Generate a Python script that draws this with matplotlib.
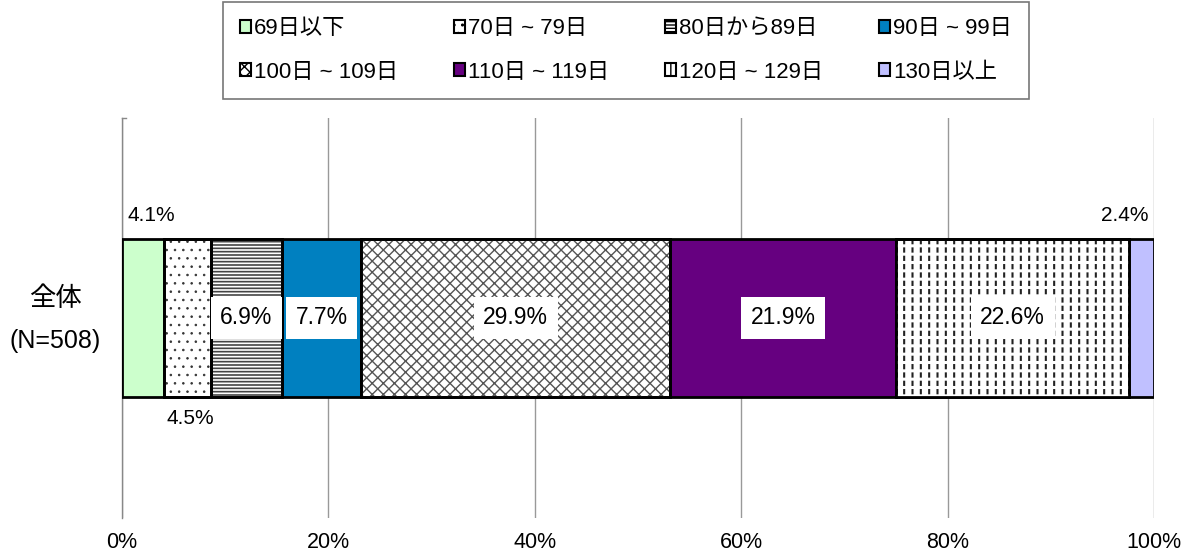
import matplotlib
matplotlib.use("Agg")
import matplotlib.pyplot as plt
from matplotlib.patches import Patch

plt.rcParams['font.family'] = ['Liberation Sans', 'Noto Sans CJK JP', 'DejaVu Sans']

categories = ["69日以下", "70日 ~ 79日", "80日から89日", "90日 ~ 99日",
              "100日 ~ 109日", "110日 ~ 119日", "120日 ~ 129日", "130日以上"]
values = [4.1, 4.5, 6.9, 7.7, 29.9, 21.9, 22.6, 2.4]
group_name = "全体"
group_n = "(N=508)"
x_ticks = [0, 20, 40, 60, 80, 100]
x_ticklabels = ["0%", "20%", "40%", "60%", "80%", "100%"]

colors = ["#ccffcc", "white", "white", "#0080c0", "white", "#660080", "white", "#c0c0ff"]
hatches = [None, "..", "-----", None, "xxx", None, "||", None]
hatch_colors = ["black", "#333333", "#444444", "black", "#555555", "black", "#222222", "black"]
hatch_widths = [1.0, 0.6, 1.2, 1.0, 1.0, 1.0, 1.5, 1.0]
# white horizontal strokes that break the vertical lines into short dashes
overlay = [None, None, None, None, None, None, "--", None]
# label placement: inside with white box, above, or below the bar
label_pos = ["above", "below", "in", "in", "in", "in", "in", "above_right"]


def hatched_bar(ax, v, left, h, hc, hw, z):
    with plt.rc_context({'hatch.linewidth': hw}):
        b = ax.barh(0, v, left=left, height=bar_h, color="none", edgecolor=hc,
                    hatch=h, linewidth=0, zorder=z)
    for p in b.patches:
        if hasattr(p, "set_hatch_linewidth"):
            p.set_hatch_linewidth(hw)
    return b


fig = plt.figure(figsize=(11.85, 5.55), dpi=100)
ax = fig.add_axes([122 / 1185, 37 / 555, 1032 / 1185, 400 / 555])

bar_h = 0.395
left = 0.0
for v, c, h, hc, hw, ov, lp in zip(values, colors, hatches, hatch_colors,
                                   hatch_widths, overlay, label_pos):
    ax.barh(0, v, left=left, height=bar_h, color=c, edgecolor="black",
            linewidth=2.0, zorder=3)
    if h:
        hatched_bar(ax, v, left, h, hc, hw, 3.4)
    if ov:
        hatched_bar(ax, v, left, ov, "white", 2.2, 3.5)
    if h or ov:
        ax.barh(0, v, left=left, height=bar_h, color="none", edgecolor="black",
                linewidth=2.0, zorder=3.6)
    txt = f"{v:.1f}%"
    cx = left + v / 2
    if lp == "in":
        ax.text(cx, 0, txt, ha="center", va="center", fontsize=16.5, zorder=5,
                bbox=dict(facecolor="white", edgecolor="none", pad=7))
    elif lp == "above":
        ax.text(left + 0.5, bar_h / 2 + 0.035, txt, ha="left", va="bottom",
                fontsize=15, zorder=5)
    elif lp == "below":
        ax.text(left + 0.2, -bar_h / 2 - 0.03, txt, ha="left", va="top",
                fontsize=15, zorder=5)
    elif lp == "above_right":
        ax.text(left + v - 0.5, bar_h / 2 + 0.035, txt, ha="right", va="bottom",
                fontsize=15, zorder=5)
    left += v

ax.set_xlim(0, 100)
ax.set_ylim(-0.5, 0.5)
ax.set_xticks(x_ticks)
ax.set_xticklabels(x_ticklabels, fontsize=15.5)
ax.tick_params(axis="x", length=0, pad=10)
ax.set_yticks([])
ax.text(-0.065, 0.5 + 0.048, group_name, transform=ax.transAxes, ha="center",
        va="center", fontsize=19)
ax.text(-0.065, 0.5 - 0.058, group_n, transform=ax.transAxes, ha="center",
        va="center", fontsize=18)
ax.xaxis.grid(True, color="#999999", linewidth=1.0, zorder=0)
for s in ["top", "right", "bottom"]:
    ax.spines[s].set_visible(False)
ax.spines["left"].set_color("#888888")
ax.spines["left"].set_linewidth(1.0)
ax.plot([0, 0.4], [0.5, 0.5], color="#888888", lw=1, clip_on=False, zorder=1)

# legend filled row by row (matplotlib fills columns first)
ncol = 4
order = [r * ncol + c for c in range(ncol) for r in range(2)]
handles = []
for i in order:
    with plt.rc_context({'hatch.linewidth': 0.8}):
        handles.append(Patch(facecolor=colors[i], edgecolor="black",
                             hatch=hatches[i], linewidth=1.5))
labels = [categories[i] for i in order]
leg = fig.legend(handles, labels, loc="upper center",
                 bbox_to_anchor=(626 / 1185, 0.997), ncol=ncol, fontsize=16,
                 frameon=True, fancybox=False, edgecolor="#555555",
                 handlelength=0.5, handleheight=0.5, handletextpad=0.15,
                 columnspacing=2.5, borderpad=0.75, labelspacing=1.0,
                 borderaxespad=0.0)
leg.get_frame().set_linewidth(1.2)

fig.savefig("out.png", dpi=100, facecolor="white")
